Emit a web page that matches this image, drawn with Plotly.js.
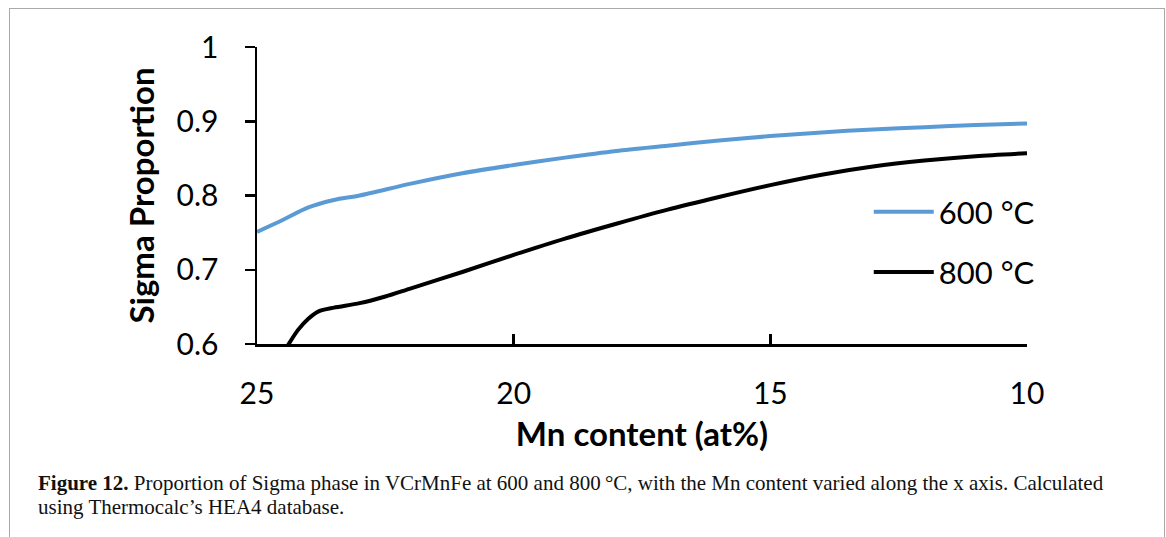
<!DOCTYPE html>
<html>
<head>
<meta charset="utf-8">
<script src="https://cdn.plot.ly/plotly-3.0.1.min.js"></script>
<style>
  html, body { margin: 0; padding: 0; background: #ffffff; }
  #wrap { position: relative; width: 1166px; height: 537px; overflow: hidden; }
  #chart { position: absolute; left: 0; top: 0; width: 1166px; height: 537px; }
  #frame { position: absolute; left: 9px; top: 8px; width: 1154px; height: 560px;
           border: 1px solid #a9a9a9; border-bottom: none; pointer-events: none; }
</style>
</head>
<body>
<div id="wrap">
  <div id="chart"></div>
  <div id="frame"></div>
</div>
<script>
// Mn content (at%)
const mn600 = [25, 24.5, 24, 23.5, 23, 22, 21, 20, 19, 18, 17, 16, 15, 14, 13, 12, 11, 10];
const sigma600 = [0.751, 0.767, 0.784, 0.794, 0.800, 0.816, 0.830, 0.841, 0.851, 0.860, 0.867, 0.874, 0.880, 0.885, 0.889, 0.892, 0.895, 0.897];

const mn800 = [24.4, 24.2, 24.0, 23.8, 23.5, 23.0, 22.5, 22, 21, 20, 19, 18, 17, 16, 15, 14, 13, 12, 11, 10];
const sigma800 = [0.598, 0.619, 0.634, 0.644, 0.649, 0.655, 0.664, 0.675, 0.697, 0.720, 0.742, 0.762, 0.781, 0.798, 0.814, 0.828, 0.839, 0.847, 0.853, 0.857];

const seriesNames = ['600 °C', '800 °C'];
const xTicks = [25, 20, 15, 10];
const yTicks = [0.6, 0.7, 0.8, 0.9, 1];
const yTickText = ['0.6', '0.7', '0.8', '0.9', '1'];
const xTitle = 'Mn content (at%)';
const yTitle = 'Sigma Proportion';
const captionLine1 = '<b>Figure 12.</b> Proportion of Sigma phase in VCrMnFe at 600 and 800\u2009°C, with the Mn content varied along the x axis. Calculated';
const captionLine2 = 'using Thermocalc’s HEA4 database.';

const font = 'Lato, "Open Sans", sans-serif';
const serif = '"Liberation Serif", "DejaVu Serif", serif';

const traces = [
  { x: mn600, y: sigma600, name: seriesNames[0], type: 'scatter', mode: 'lines',
    line: { color: '#5b9bd5', width: 4, shape: 'spline', smoothing: 0.8 }, legend: 'legend', cliponaxis: true },
  { x: mn800, y: sigma800, name: seriesNames[1], type: 'scatter', mode: 'lines',
    line: { color: '#000000', width: 4, shape: 'spline', smoothing: 0.8 }, legend: 'legend2', cliponaxis: true }
];

const legendCommon = {
  xanchor: 'left', yanchor: 'middle', bgcolor: 'rgba(0,0,0,0)', borderwidth: 0,
  font: { family: font, size: 31, color: '#000' }, itemwidth: 60
};

const layout = {
  width: 1166, height: 537,
  margin: { l: 257, r: 139, t: 47, b: 193, pad: 0 },
  paper_bgcolor: 'rgba(0,0,0,0)', plot_bgcolor: '#ffffff',
  showlegend: true,
  legend: Object.assign({ x: 0.7945, y: 0.444 }, legendCommon),
  legend2: Object.assign({ x: 0.7945, y: 0.241 }, legendCommon),
  xaxis: {
    range: [25, 10], autorange: false,
    tickmode: 'array', tickvals: xTicks, ticktext: xTicks.map(String),
    ticks: 'inside', ticklen: 10, tickwidth: 2.5, tickcolor: '#000',
    showline: true, linecolor: '#000', linewidth: 2.5, showgrid: false, zeroline: false,
    tickfont: { family: font, size: 30, color: '#000' }, ticklabelstandoff: 21,
    title: { text: '<b>' + xTitle + '</b>', font: { family: font, size: 33, color: '#000' }, standoff: 15 }
  },
  yaxis: {
    range: [0.6, 1], autorange: false,
    tickmode: 'array', tickvals: yTicks, ticktext: yTickText,
    ticks: 'outside', ticklen: 10, tickwidth: 2.5, tickcolor: '#000',
    showline: true, linecolor: '#000', linewidth: 2.5, showgrid: false, zeroline: false,
    tickfont: { family: font, size: 30, color: '#000' }, ticklabelstandoff: 20,
    title: { text: '<b>' + yTitle + '</b>', font: { family: font, size: 33, color: '#000' }, standoff: 12 }
  },
  annotations: [
    { xref: 'paper', yref: 'paper', x: (36 - 257) / 770, y: -(483 - 344) / 297,
      xanchor: 'left', yanchor: 'middle', showarrow: false, align: 'left',
      text: captionLine1, font: { family: serif, size: 21, color: '#111' } },
    { xref: 'paper', yref: 'paper', x: (36 - 257) / 770, y: -(507 - 344) / 297,
      xanchor: 'left', yanchor: 'middle', showarrow: false, align: 'left',
      text: captionLine2, font: { family: serif, size: 21, color: '#111' } }
  ]
};

Plotly.newPlot('chart', traces, layout, { displayModeBar: false, staticPlot: true });
</script>
</body>
</html>
